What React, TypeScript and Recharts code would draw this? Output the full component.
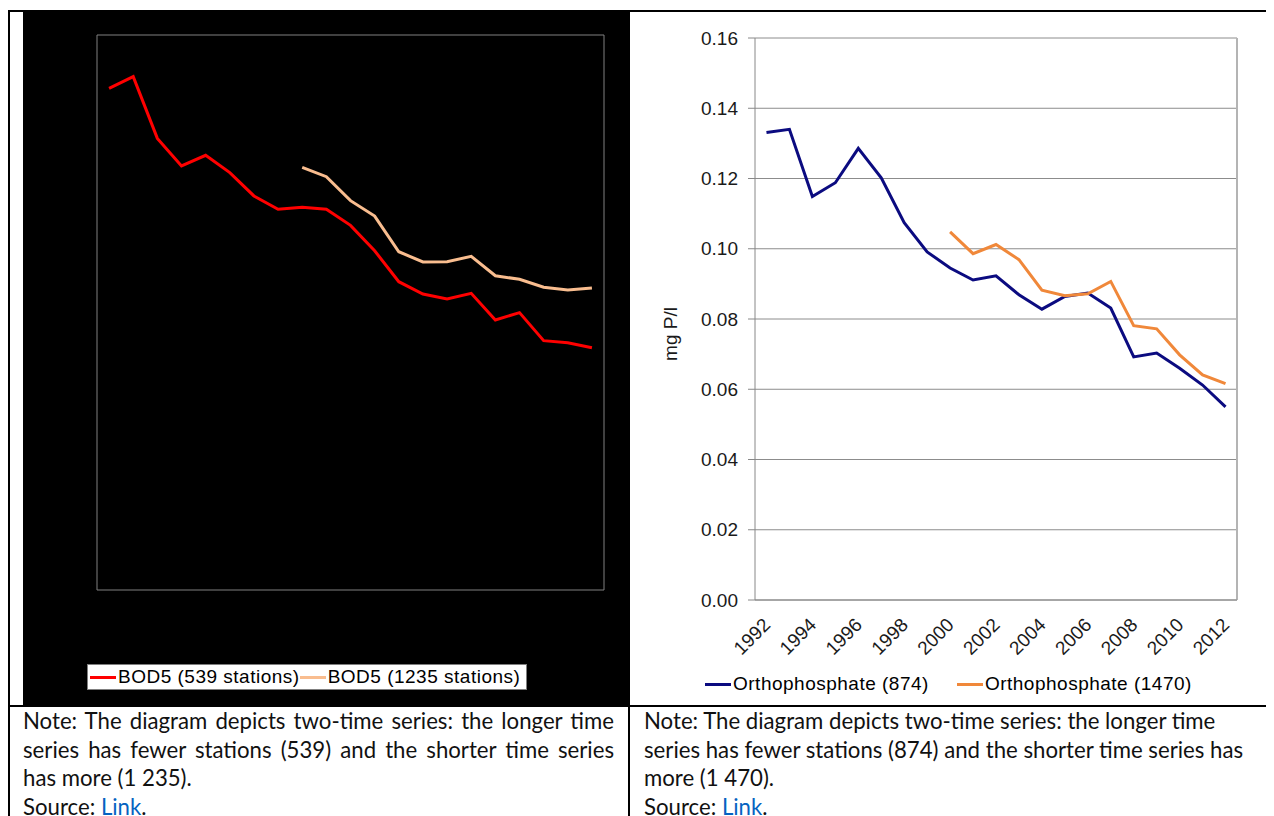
import React from 'react';
import { LineChart, Line, XAxis, YAxis, CartesianGrid, ReferenceArea, ReferenceLine, Legend } from 'recharts';

const years = [1992, 1993, 1994, 1995, 1996, 1997, 1998, 1999, 2000, 2001, 2002, 2003, 2004, 2005, 2006, 2007, 2008, 2009, 2010, 2011, 2012];
const labelYears = [1992, 1994, 1996, 1998, 2000, 2002, 2004, 2006, 2008, 2010, 2012];

const bod539 = [3.616, 3.700, 3.255, 3.056, 3.133, 3.008, 2.840, 2.744, 2.758, 2.744, 2.628, 2.445, 2.222, 2.133, 2.097, 2.138, 1.946, 1.999, 1.797, 1.782, 1.746];
const bod1235 = [null, null, null, null, null, null, null, null, 3.046, 2.979, 2.806, 2.695, 2.438, 2.364, 2.366, 2.405, 2.265, 2.239, 2.182, 2.162, 2.177];

const ortho874 = [0.1331, 0.1340, 0.1149, 0.1188, 0.1286, 0.1202, 0.1074, 0.0991, 0.0945, 0.0911, 0.0923, 0.0869, 0.0828, 0.0864, 0.0874, 0.0831, 0.0692, 0.0703, 0.0660, 0.0612, 0.0550];
const ortho1470 = [null, null, null, null, null, null, null, null, 0.1048, 0.0986, 0.1012, 0.0969, 0.0882, 0.0866, 0.0872, 0.0907, 0.0781, 0.0772, 0.0698, 0.0641, 0.0616];

const yTicks = [0, 0.02, 0.04, 0.06, 0.08, 0.10, 0.12, 0.14, 0.16];
const seriesOrder = ['bod539', 'bod1235', 'ortho874', 'ortho1470'];

const bodData = years.map((year, i) => ({ year, bod539: bod539[i], bod1235: bod1235[i] }));
const orthoData = years.map((year, i) => ({ year, ortho874: ortho874[i], ortho1470: ortho1470[i] }));
const boundaries = [...years.map((y) => y - 0.5), years[years.length - 1] + 0.5];
const xDomain = [years[0] - 0.5, years[years.length - 1] + 0.5];

const ARIAL = "'Liberation Sans', Arial, Helvetica, sans-serif";
const NOTE_FONT = "Lato, 'Open Sans', sans-serif";

const LegendRow = ({ payload, boxed }: any) => {
  const items = [...(payload || [])].sort(
    (a: any, b: any) => seriesOrder.indexOf(a.dataKey) - seriesOrder.indexOf(b.dataKey)
  );
  return (
    <div
      style={{
        display: 'flex',
        alignItems: 'center',
        height: 26,
        boxSizing: 'border-box',
        background: boxed ? '#ffffff' : 'transparent',
        border: boxed ? '1px solid #7f7f7f' : 'none',
        paddingLeft: 2,
        fontFamily: ARIAL,
        fontSize: 19,
        letterSpacing: 0.5,
        color: '#000',
        whiteSpace: 'nowrap',
      }}
    >
      {items.map((p: any, i: number) => (
        <span key={i} style={{ display: 'inline-flex', alignItems: 'center', marginLeft: !boxed && i > 0 ? 28 : 0 }}>
          <span style={{ display: 'inline-block', width: 26, height: 3, background: p.color, marginRight: 2 }} />
          <span>{p.value}</span>
        </span>
      ))}
    </div>
  );
};

const RotTick = (props: any) => {
  const { x, y, payload } = props;
  return (
    <g transform={`translate(${x + 5},${y + 25})`}>
      <text transform="rotate(-45)" textAnchor="end" fill="#1a1a1a" fontSize={19} fontFamily={ARIAL}>
        {payload.value}
      </text>
    </g>
  );
};

const abs = (left: number, top: number, width: number, height: number, bg = '#000'): React.CSSProperties => ({
  position: 'absolute',
  left,
  top,
  width,
  height,
  background: bg,
});

const noteLine: React.CSSProperties = {
  height: 28.7,
  lineHeight: '28.7px',
  whiteSpace: 'nowrap',
};
const justLine: React.CSSProperties = {
  ...noteLine,
  textAlign: 'justify',
  textAlignLast: 'justify' as any,
  whiteSpace: 'normal',
  overflow: 'hidden',
};

export default function App() {
  return (
    <div style={{ position: 'relative', width: 1266, height: 808, overflow: 'hidden', background: '#fff' }}>
      {/* left chart cell */}
      <div style={{ position: 'absolute', left: 15, top: 4 }}>
        <LineChart
          width={607}
          height={694}
          data={bodData}
          margin={{ top: 23, right: 26, bottom: 116, left: 74 }}
          style={{ background: '#000' }}
        >
          <XAxis type="number" dataKey="year" domain={xDomain} hide />
          <YAxis type="number" domain={[0, 4]} hide />
          <ReferenceArea x1={xDomain[0]} x2={xDomain[1]} y1={0} y2={4} fill="none" stroke="#808080" strokeWidth={1} />
          <Line type="linear" dataKey="bod539" name="BOD5 (539 stations)" stroke="#ff0000" strokeWidth={3} dot={false} isAnimationActive={false} />
          <Line type="linear" dataKey="bod1235" name="BOD5 (1235 stations)" stroke="#f9bd8f" strokeWidth={3} dot={false} isAnimationActive={false} />
          <Legend
            layout="vertical"
            align="center"
            verticalAlign="middle"
            wrapperStyle={{ left: 64, top: 652, width: 440, height: 26 }}
            content={(p: any) => <LegendRow payload={p.payload} boxed />}
          />
        </LineChart>
      </div>

      {/* right chart cell */}
      <div style={{ position: 'absolute', left: 622, top: 4 }}>
        <LineChart
          width={644}
          height={694}
          data={orthoData}
          margin={{ top: 26, right: 37, bottom: 0, left: 20 }}
          style={{ background: '#fff' }}
        >
          <CartesianGrid vertical={false} stroke="#8c8c8c" />
          <XAxis
            type="number"
            dataKey="year"
            domain={xDomain}
            ticks={boundaries}
            tick={false}
            tickSize={6}
            height={1}
            axisLine={{ stroke: '#888888' }}
            tickLine={{ stroke: '#888888' }}
          />
          <XAxis
            xAxisId="lab"
            type="number"
            dataKey="year"
            domain={xDomain}
            ticks={labelYears}
            interval={0}
            axisLine={false}
            tickLine={false}
            tickSize={0}
            tickMargin={0}
            height={105}
            tick={<RotTick />}
          />
          <YAxis
            type="number"
            domain={[0, 0.16]}
            ticks={yTicks}
            interval={0}
            width={105}
            tickFormatter={(v: number) => v.toFixed(2)}
            tick={{ fill: '#1a1a1a', fontSize: 19, fontFamily: ARIAL }}
            tickSize={7}
            tickMargin={10}
            axisLine={{ stroke: '#888888' }}
            tickLine={{ stroke: '#888888' }}
            label={{ value: 'mg P/l', angle: -90, position: 'insideLeft', offset: 20, dy: 15, style: { textAnchor: 'middle', fill: '#1a1a1a', fontSize: 19, fontFamily: ARIAL } }}
          />
          <ReferenceLine x={xDomain[1]} stroke="#b4b4b4" strokeWidth={2} />
          <Line type="linear" dataKey="ortho874" name="Orthophosphate (874)" stroke="#0b0b80" strokeWidth={3} dot={false} isAnimationActive={false} />
          <Line type="linear" dataKey="ortho1470" name="Orthophosphate (1470)" stroke="#f0883a" strokeWidth={3} dot={false} isAnimationActive={false} />
          <Legend
            layout="vertical"
            align="center"
            verticalAlign="middle"
            wrapperStyle={{ left: 73, top: 659, width: 520, height: 26 }}
            content={(p: any) => <LegendRow payload={p.payload} boxed={false} />}
          />
        </LineChart>
      </div>

      {/* table borders */}
      <div style={abs(0, 2, 1266, 2)} />
      <div style={abs(0, 2, 2, 806)} />
      <div style={abs(0, 697, 1266, 2)} />
      <div style={abs(620, 697, 2, 111)} />

      {/* notes */}
      <div style={{ position: 'absolute', left: 15, top: 699, width: 591, fontFamily: NOTE_FONT, fontSize: 22.2, color: '#111' }}>
        <div style={justLine}>Note: The diagram depicts two-time series: the longer time</div>
        <div style={justLine}>series has fewer stations (539) and the shorter time series</div>
        <div style={noteLine}>has more (1 235).</div>
        <div style={noteLine}>
          Source: <span style={{ color: '#0563c1' }}>Link</span>.
        </div>
      </div>
      <div style={{ position: 'absolute', left: 636, top: 699, width: 625, fontFamily: NOTE_FONT, fontSize: 22.2, color: '#111' }}>
        <div style={noteLine}>Note: The diagram depicts two-time series: the longer time</div>
        <div style={noteLine}>series has fewer stations (874) and the shorter time series has</div>
        <div style={noteLine}>more (1 470).</div>
        <div style={noteLine}>
          Source: <span style={{ color: '#0563c1' }}>Link</span>.
        </div>
      </div>
    </div>
  );
}
